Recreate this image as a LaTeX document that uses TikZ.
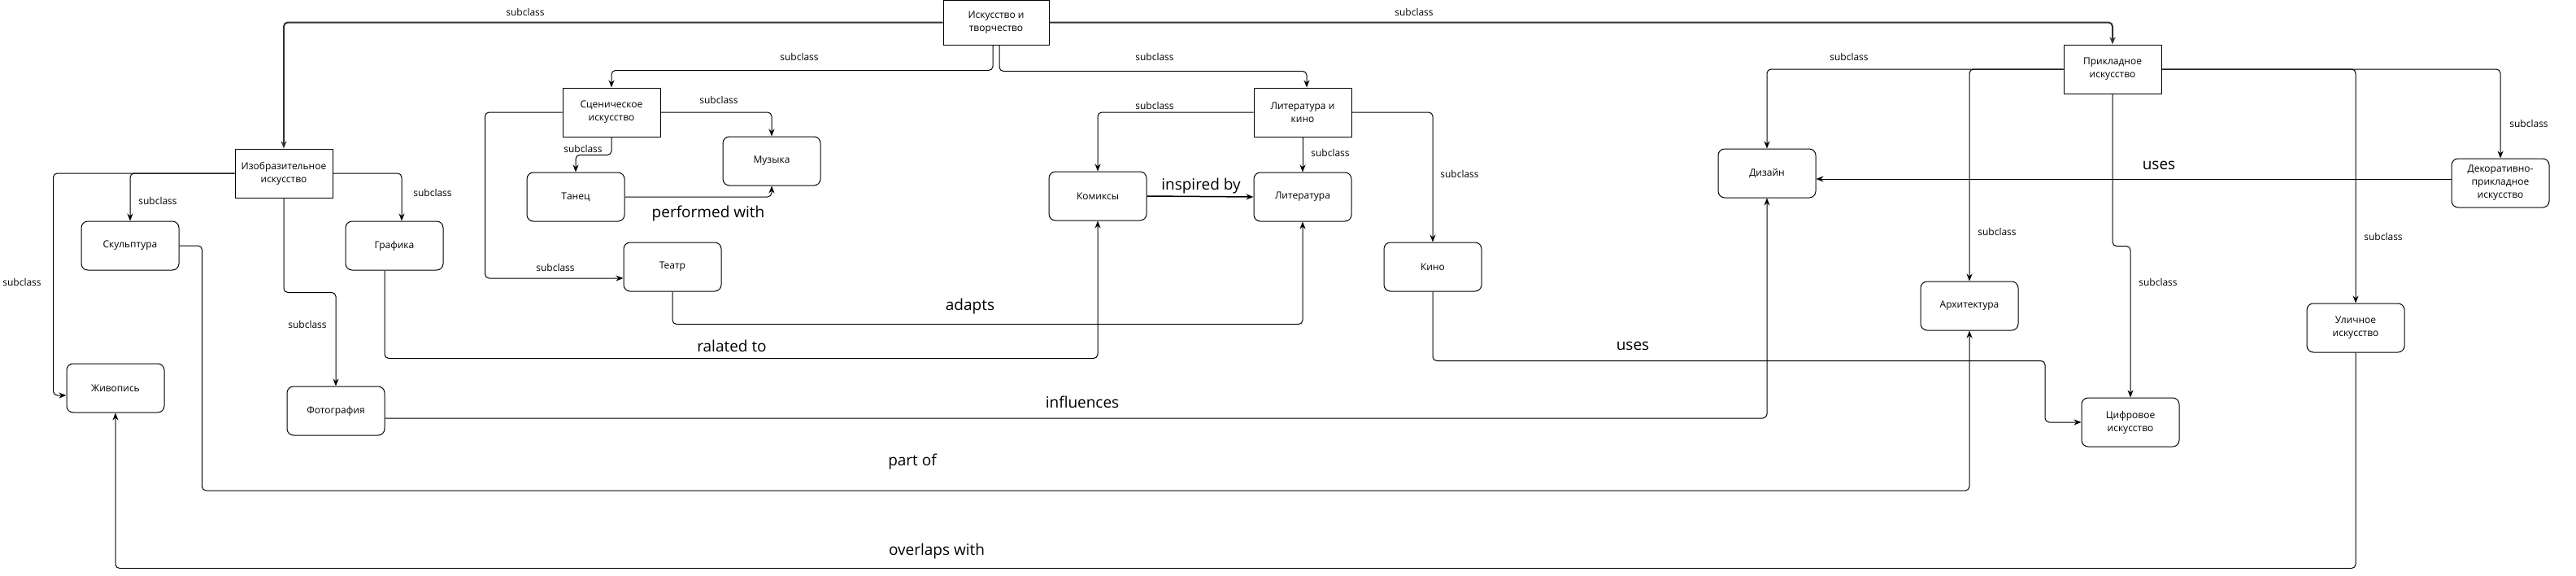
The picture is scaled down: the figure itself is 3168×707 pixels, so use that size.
\documentclass[tikz,border=0pt]{standalone}
\usepackage{fontspec}
\setmainfont{Open Sans}
\usepackage{tikz}
\usetikzlibrary{arrows.meta}

\tikzset{
  concept/.style={draw, line width=1pt, rectangle, minimum width=120pt, minimum height=60pt,
    align=center, inner sep=2pt, font=\fontsize{12}{16}\selectfont},
  leaf/.style={concept, rounded corners=8pt},
  arr/.style={draw, line width=1pt, rounded corners=5pt,
    -{Stealth[length=9pt,width=7pt]}},
  lbl/.style={inner sep=0pt, font=\fontsize{12}{14}\selectfont},
  rel/.style={inner sep=0pt, font=\fontsize{19}{22}\selectfont}
}

\begin{document}
\begin{tikzpicture}[x=1pt, y=-1pt]
\useasboundingbox (0,0) rectangle (3168,707);

% Upper classes
\node[concept, minimum width=130pt, minimum height=55pt] (art) at (1225,27.5) {Искусство и\\творчество};
\node[concept] (fine) at (349,213) {Изобразительное\\искусство};
\node[concept] (stage) at (752,138) {Сценическое\\искусство};
\node[concept] (lit) at (1602,138) {Литература и\\кино};
\node[concept] (applied) at (2598,85) {Прикладное\\искусство};

% Leaves
\node[leaf] (sculpt) at (160,302) {Скульптура};
\node[leaf] (graphic) at (485,302) {Графика};
\node[leaf] (paint) at (142,477) {Живопись};
\node[leaf] (photo) at (413,505) {Фотография};
\node[leaf] (dance) at (708,242) {Танец};
\node[leaf] (music) at (949,198) {Музыка};
\node[leaf] (theatre) at (827,328) {Театр};
\node[leaf] (comics) at (1350,241) {Комиксы};
\node[leaf] (books) at (1602,242) {Литература};
\node[leaf] (cinema) at (1762,328) {Кино};
\node[leaf] (design) at (2173,213) {Дизайн};
\node[leaf] (decor) at (3075,225) {Декоративно-\\прикладное\\искусство};
\node[leaf] (archi) at (2422,376) {Архитектура};
\node[leaf] (digital) at (2620,519) {Цифровое\\искусство};
\node[leaf] (street) at (2897,403) {Уличное\\искусство};

% subclass links
\draw[arr, line width=2pt, draw=black!80] (art.west) -| (fine.north);
\draw[arr, line width=2pt, draw=black!80] (art.east) -| (applied.north);
\draw[arr] ([xshift=-4pt]art.south) -- ++(0,31) -| (stage.north);
\draw[arr] ([xshift=4pt]art.south) -- ++(0,32) -| ([xshift=5pt]lit.north);
\draw[arr] (fine.west) -| (sculpt.north);
\draw[arr] (fine.east) -| ([xshift=9pt]graphic.north);
\draw[arr] (fine.west) -- ++(-223,0) |- ([yshift=-9pt]paint.west);
\draw[arr] (fine.south) -- ++(0,116) -| (photo.north);
\draw[arr] (stage.east) -| (music.north);
\draw[arr] (stage.south) -- ++(0,22) -| (dance.north);
\draw[arr] (stage.west) -- ++(-95,0) |- ([yshift=-14pt]theatre.west);
\draw[arr] (lit.west) -| (comics.north);
\draw[arr] (lit.south) -- (books.north);
\draw[arr] (lit.east) -| (cinema.north);
\draw[arr] (applied.west) -| (design.north);
\draw[arr] (applied.west) -| (archi.north);
\draw[arr] (applied.south) -- ++(0,187) -| (digital.north);
\draw[arr] (applied.east) -| (street.north);
\draw[arr] (applied.east) -| (decor.north);

\node[lbl] (s1) at (646,15) {subclass};
\node[lbl] (s2) at (1739,15) {subclass};
\node[lbl] (s3) at (983,70) {subclass};
\node[lbl] (s4) at (1420,70) {subclass};
\node[lbl] (s5) at (194,247) {subclass};
\node[lbl] (s6) at (532,237) {subclass};
\node[lbl] (s7) at (27,347) {subclass};
\node[lbl] (s8) at (378,399) {subclass};
\node[lbl] (s9) at (884,123) {subclass};
\node[lbl] (s10) at (717,183) {subclass};
\node[lbl] (s11) at (683,329) {subclass};
\node[lbl] (s12) at (1420,130) {subclass};
\node[lbl] (s13) at (1636,188) {subclass};
\node[lbl] (s14) at (1795,214) {subclass};
\node[lbl] (s15) at (2274,70) {subclass};
\node[lbl] (s16) at (2456,285) {subclass};
\node[lbl] (s17) at (2654,347) {subclass};
\node[lbl] (s18) at (2931,291) {subclass};
\node[lbl] (s19) at (3110,152) {subclass};

% other relations
\draw[arr] (dance.east) -| (music.south);
\draw[arr, line width=1.5pt] (comics.east) -- (books.west);
\draw[arr] ([xshift=-12pt]graphic.south) -- ++(0,108) -| (comics.south);
\draw[arr] (theatre.south) -- ++(0,40) -| (books.south);
\draw[arr] (cinema.south) -- ++(0,85) -- ++(753,0) |- (digital.west);
\draw[arr] ([yshift=-9pt]photo.east) -| (design.south);
\draw[arr] (sculpt.east) -- ++(28,0) -- ++(0,301) -| (archi.south);
\draw[arr] (street.south) -- ++(0,265) -| (paint.south);
\draw[arr] ([yshift=5pt]decor.west) -- ([yshift=5pt]decor.west -| design.east);

\node[rel] (r1) at (871,263) {performed with};
\node[rel] (r2) at (1477,229) {inspired by};
\node[rel] (r3) at (900,425) {ralated to};
\node[rel] (r4) at (1193,377) {adapts};
\node[rel] (r5) at (2008,425) {uses};
\node[rel] (r6) at (1331,494) {influences};
\node[rel] (r7) at (1122,568) {part of};
\node[rel] (r8) at (1152,678) {overlaps with};
\node[rel] (r9) at (2655,203) {uses};
\end{tikzpicture}
\end{document}
